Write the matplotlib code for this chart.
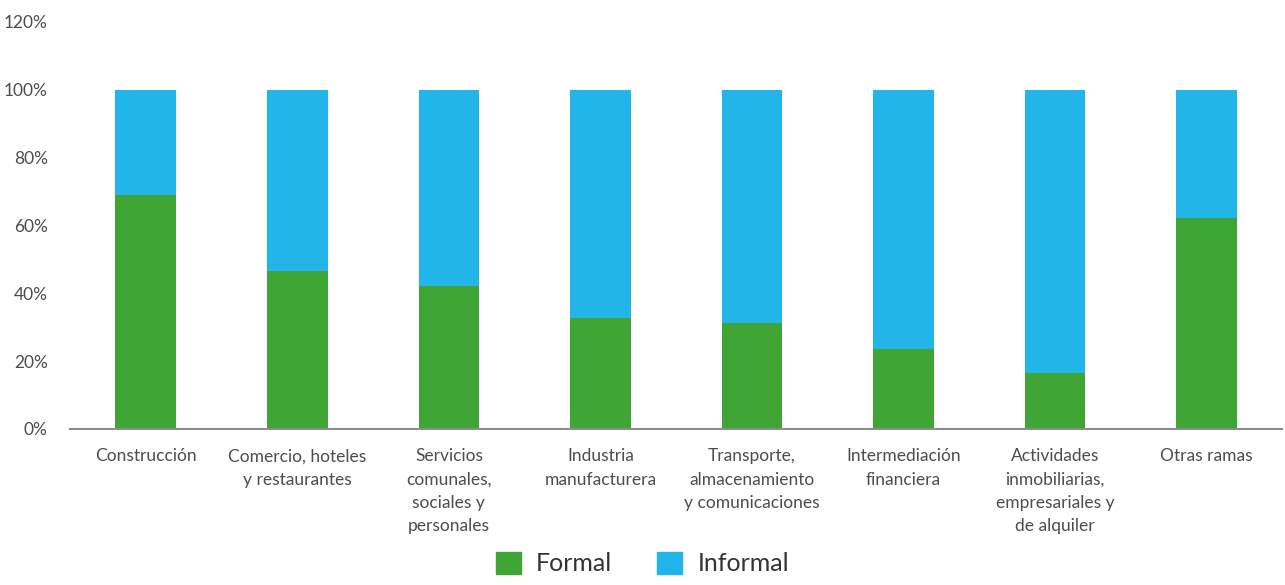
import matplotlib
matplotlib.use("Agg")
import matplotlib.pyplot as plt
from matplotlib.patches import Patch
from matplotlib.ticker import FuncFormatter

categories = [
    "Construcción",
    "Comercio, hoteles\ny restaurantes",
    "Servicios\ncomunales,\nsociales y\npersonales",
    "Industria\nmanufacturera",
    "Transporte,\nalmacenamiento\ny comunicaciones",
    "Intermediación\nfinanciera",
    "Actividades\ninmobiliarias,\nempresariales y\nde alquiler",
    "Otras ramas",
]
formal = [0.69, 0.466, 0.422, 0.327, 0.313, 0.236, 0.166, 0.622]
informal = [1 - v for v in formal]

GREEN = "#3FA535"
BLUE = "#22B5EA"
GREY = "#4d4d4d"

plt.rcParams["font.family"] = ["Lato", "DejaVu Sans"]

fig = plt.figure(figsize=(12.85, 5.85), dpi=100)
ax = fig.add_axes([0.0545, 0.2667, 0.9435, 0.6957])

xs = list(range(len(categories)))
ax.bar(xs, formal, width=0.4, color=GREEN, label="Formal")
ax.bar(xs, informal, width=0.4, bottom=formal, color=BLUE, label="Informal")

ax.set_xlim(-0.5, len(categories) - 0.5)
ax.set_ylim(0, 1.2)
ax.set_yticks([0, 0.2, 0.4, 0.6, 0.8, 1.0, 1.2])
ax.yaxis.set_major_formatter(FuncFormatter(lambda v, _: f"{v * 100:.0f}%"))
ax.set_xticks(xs, categories)
ax.tick_params(axis="both", length=0, labelsize=12.5, colors=GREY)
ax.tick_params(axis="y", pad=16)
ax.tick_params(axis="x", pad=14)
for lbl in ax.get_xticklabels():
    lbl.set_linespacing(1.55)

for side in ["top", "right", "left"]:
    ax.spines[side].set_visible(False)
ax.spines["bottom"].set_color("#8c8c8c")
ax.spines["bottom"].set_linewidth(1.5)

handles = [Patch(color=GREEN, label="Formal"), Patch(color=BLUE, label="Informal")]
fig.legend(handles=handles, loc="lower center", bbox_to_anchor=(0.5, -0.022), ncol=2,
           frameon=False, fontsize=18, handlelength=1.0, handleheight=1.0,
           columnspacing=1.8, handletextpad=0.6, labelcolor="#333333")

fig.savefig("out.png", dpi=100)
